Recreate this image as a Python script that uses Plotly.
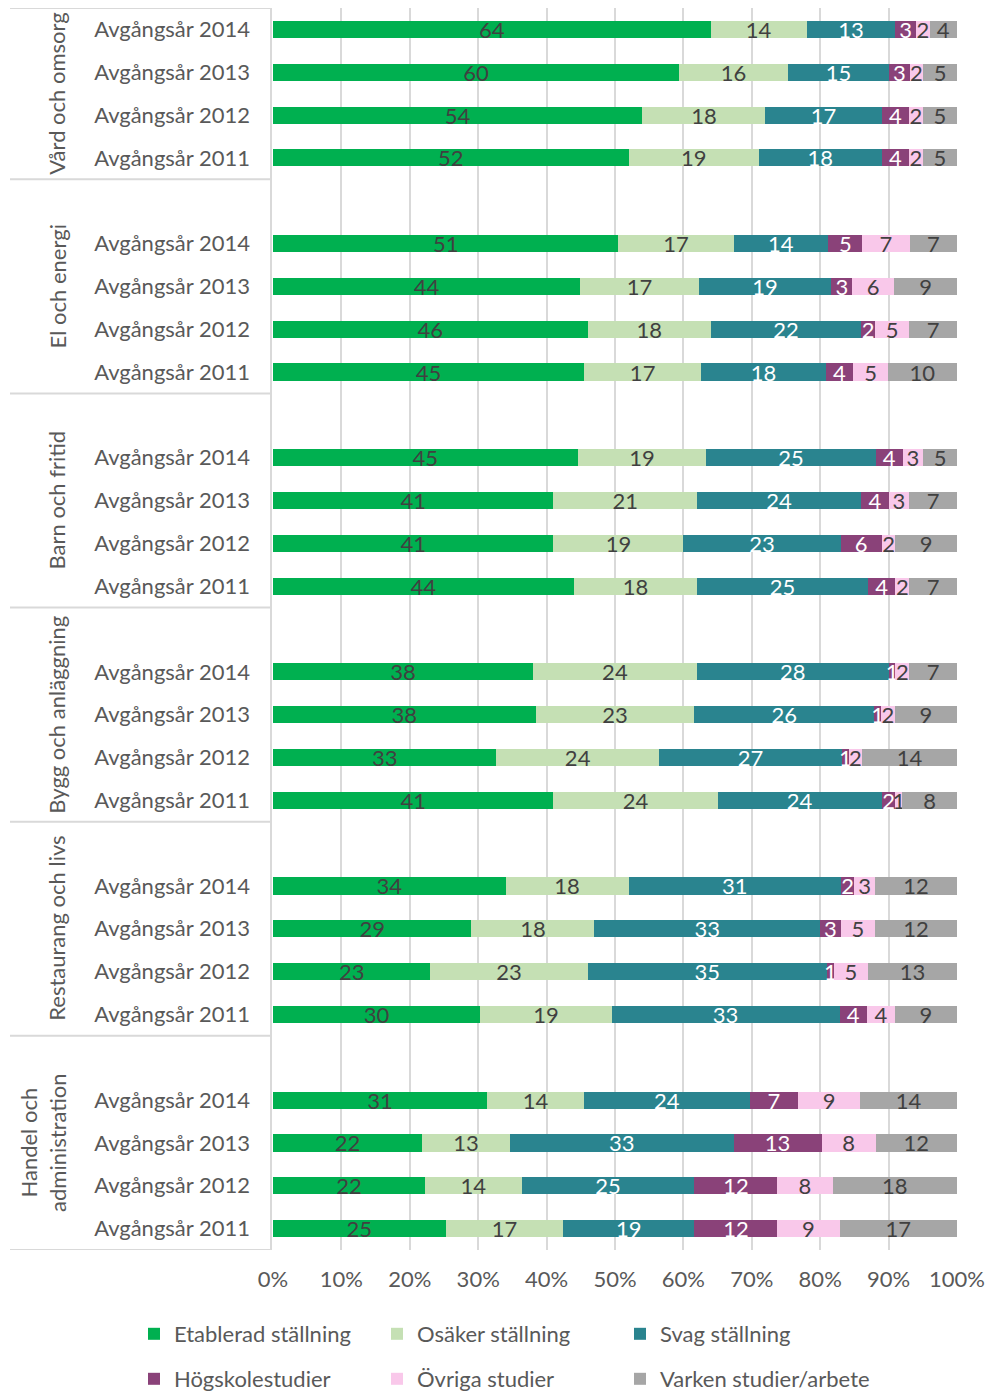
import plotly.graph_objects as go

groups = ["Vård och omsorg", "El och energi", "Barn och fritid",
          "Bygg och anläggning", "Restaurang och livs", "Handel och<br>administration"]
years = ["Avgångsår 2014", "Avgångsår 2013", "Avgångsår 2012", "Avgångsår 2011"]

series_names = ["Etablerad ställning", "Osäker ställning", "Svag ställning",
                "Högskolestudier", "Övriga studier", "Varken studier/arbete"]

# rows: group by group, years 2014..2011 (top to bottom)
etablerad = [64, 60, 54, 52, 51, 44, 46, 45, 45, 41, 41, 44, 38, 38, 33, 41, 34, 29, 23, 30, 31, 22, 22, 25]
osaker    = [14, 16, 18, 19, 17, 17, 18, 17, 19, 21, 19, 18, 24, 23, 24, 24, 18, 18, 23, 19, 14, 13, 14, 17]
svag      = [13, 15, 17, 18, 14, 19, 22, 18, 25, 24, 23, 25, 28, 26, 27, 24, 31, 33, 35, 33, 24, 33, 25, 19]
hogskola  = [3, 3, 4, 4, 5, 3, 2, 4, 4, 4, 6, 4, 1, 1, 1, 2, 2, 3, 1, 4, 7, 13, 12, 12]
ovriga    = [2, 2, 2, 2, 7, 6, 5, 5, 3, 3, 2, 2, 2, 2, 2, 1, 3, 5, 5, 4, 9, 8, 8, 9]
varken    = [4, 5, 5, 5, 7, 9, 7, 10, 5, 7, 9, 7, 7, 9, 14, 8, 12, 12, 13, 9, 14, 12, 18, 17]

x_ticks = [0, 10, 20, 30, 40, 50, 60, 70, 80, 90, 100]
x_ticklabels = ["0%", "10%", "20%", "30%", "40%", "50%", "60%", "70%", "80%", "90%", "100%"]

colors = ["#00B050", "#C5E0B4", "#2A848F", "#8A4279", "#F9C8EA", "#A6A6A6"]
text_colors = ["#404040", "#404040", "#FFFFFF", "#FFFFFF", "#404040", "#404040"]

FONT = "Lato"
FS = 22

# slot positions: first group has no leading blank slot
ypos = []
ticktext = []
for g in range(len(groups)):
    for i in range(len(years)):
        ypos.append(i if g == 0 else 5 * g + i)
        ticktext.append(years[i])

plot_left, plot_right, plot_top, plot_bottom = 273, 957, 8, 1250
pw = plot_right - plot_left
ph = plot_bottom - plot_top

def px_to_paper(px):
    return (px - plot_left) / pw

def py_to_paper(py):
    return (plot_bottom - py) / ph

# legend placement (pixel centres of rows / left of columns)
leg_cols = [134, 377, 620]
leg_rows = [1335, 1380]

fig = go.Figure()
all_series = [etablerad, osaker, svag, hogskola, ovriga, varken]
layout_legends = {}
for k, (name, vals, col, tcol) in enumerate(zip(series_names, all_series, colors, text_colors)):
    lname = "legend" if k == 0 else f"legend{k + 1}"
    fig.add_trace(go.Bar(
        y=ypos, x=vals, orientation="h", name=name,
        marker=dict(color=col, line=dict(width=0)),
        text=[str(v) for v in vals], textposition="inside",
        insidetextanchor="middle", textangle=0,
        textfont=dict(color=tcol, size=FS, family=FONT),
        width=0.4, cliponaxis=False,
        legend=lname,
    ))
    layout_legends[lname] = dict(
        orientation="h", xref="paper", yref="paper",
        x=px_to_paper(leg_cols[k % 3]), y=py_to_paper(leg_rows[k // 3] + 20),
        xanchor="left", yanchor="bottom",
        font=dict(size=FS, color="#595959", family=FONT),
        itemwidth=30, bgcolor="rgba(0,0,0,0)",
    )

shapes = []
boundaries = [-0.5, 3.5, 8.5, 13.5, 18.5, 23.5, 28.5]
for b in boundaries:
    shapes.append(dict(type="line", xref="paper", yref="y",
                       x0=px_to_paper(10), x1=px_to_paper(271), y0=b, y1=b,
                       line=dict(color="#D9D9D9", width=2)))
shapes.append(dict(type="line", xref="paper", yref="y",
                   x0=px_to_paper(271), x1=px_to_paper(271), y0=-0.5, y1=28.5,
                   line=dict(color="#D9D9D9", width=2)))

annotations = []
for g, name in enumerate(groups):
    yc = 1.5 if g == 0 else 5 * g + 1
    xc = 57 if g < 5 else 43
    annotations.append(dict(text=name, xref="paper", yref="y", x=px_to_paper(xc), y=yc,
                            textangle=-90, showarrow=False, xanchor="center", yanchor="middle",
                            font=dict(size=FS, color="#595959", family=FONT)))

fig.update_layout(
    width=987, height=1391,
    margin=dict(l=plot_left, r=987 - plot_right, t=plot_top, b=1391 - plot_bottom, autoexpand=False),
    barmode="stack", barnorm="percent",
    plot_bgcolor="white", paper_bgcolor="white",
    font=dict(family=FONT, size=FS, color="#595959"),
    uniformtext=dict(minsize=FS, mode="show"),
    xaxis=dict(range=[0, 100.001], tickmode="array", tickvals=x_ticks, ticktext=x_ticklabels,
               showgrid=True, gridcolor="#D9D9D9", gridwidth=2, zeroline=False, showline=False,
               tickfont=dict(size=FS, color="#595959", family=FONT), ticks="",
               ticklabelstandoff=14, fixedrange=True, automargin=False),
    yaxis=dict(range=[28.5, -0.5], tickmode="array", tickvals=ypos, ticktext=ticktext,
               showgrid=False, zeroline=False, showline=False, ticks="",
               ticklabelstandoff=22, automargin=False,
               tickfont=dict(size=FS, color="#595959", family=FONT)),
    shapes=shapes, annotations=annotations,
    showlegend=True,
    **layout_legends,
)

fig.write_html("out.html", config={"displayModeBar": False},
               post_script="document.body.style.margin='0px';")
